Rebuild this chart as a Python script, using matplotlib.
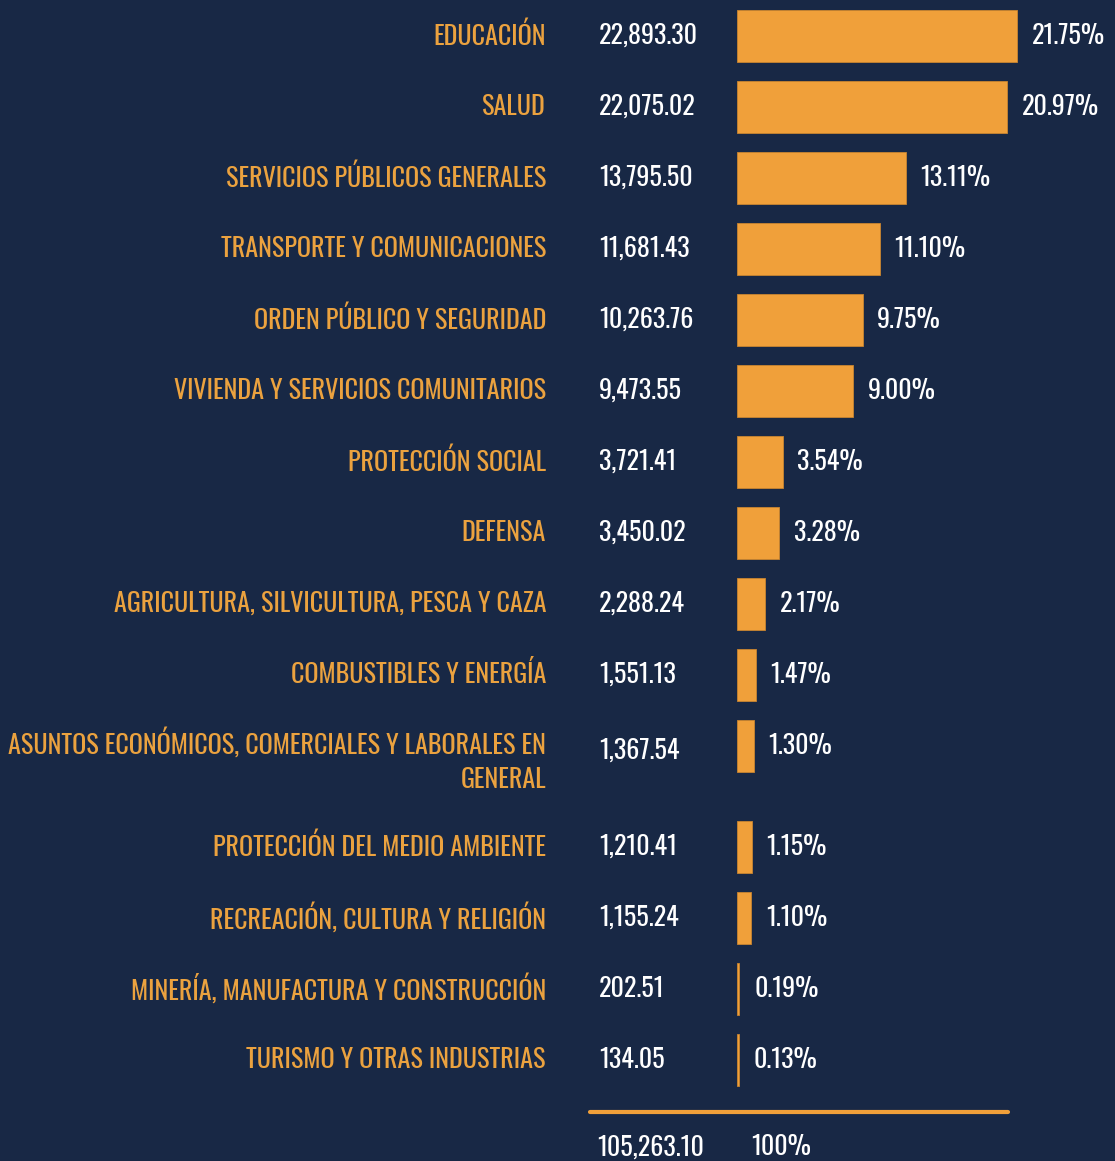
import numpy as np
import matplotlib
matplotlib.use('Agg')
import matplotlib.pyplot as plt
import matplotlib.transforms as mtransforms
from matplotlib import font_manager

categorias = ['EDUCACIÓN', 'SALUD', 'SERVICIOS PÚBLICOS GENERALES',
              'TRANSPORTE Y COMUNICACIONES', 'ORDEN PÚBLICO Y SEGURIDAD',
              'VIVIENDA Y SERVICIOS COMUNITARIOS', 'PROTECCIÓN SOCIAL', 'DEFENSA',
              'AGRICULTURA, SILVICULTURA, PESCA Y CAZA', 'COMBUSTIBLES Y ENERGÍA',
              'ASUNTOS ECONÓMICOS, COMERCIALES Y LABORALES EN\nGENERAL',
              'PROTECCIÓN DEL MEDIO AMBIENTE', 'RECREACIÓN, CULTURA Y RELIGIÓN',
              'MINERÍA, MANUFACTURA Y CONSTRUCCIÓN', 'TURISMO Y OTRAS INDUSTRIAS']
montos = [22893.30, 22075.02, 13795.50, 11681.43, 10263.76, 9473.55, 3721.41,
          3450.02, 2288.24, 1551.13, 1367.54, 1210.41, 1155.24, 202.51, 134.05]
porcentajes = [21.75, 20.97, 13.11, 11.10, 9.75, 9.00, 3.54, 3.28, 2.17, 1.47,
               1.30, 1.15, 1.10, 0.19, 0.13]
total = 105263.10

BG = '#182845'
NARANJA = '#f0a03a'

# fuente condensada: la primera que este instalada
instaladas = {f.name for f in font_manager.fontManager.ttflist}
fuente = next(n for n in ['Oswald', 'Roboto Condensed', 'Fjalla One', 'DejaVu Sans']
              if n in instaladas)
plt.rcParams['font.family'] = [fuente, 'DejaVu Sans']
FS = 18.8

W, H = 1115, 1161
fig = plt.figure(figsize=(W / 100, H / 100), dpi=100, facecolor=BG)
x0 = 737
ax = fig.add_axes([x0 / W, 0, 1 - x0 / W, 1])
ax.set_facecolor(BG)
ax.axis('off')

# filas: la de "asuntos" ocupa dos lineas, el resto se desplaza un poco
y = np.arange(len(categorias), dtype=float)
y[11:] += 0.42
px_pct = 280 / 21.75
ax.set_xlim(0, (W - x0) / px_pct)
ax.set_ylim((H - 36) / 71, -36 / 71)

ax.barh(y, porcentajes, height=0.73, color=NARANJA, edgecolor='#c98530', linewidth=0.6)

trans = mtransforms.blended_transform_factory(fig.transFigure, ax.transData)
for yi, cat, m, p in zip(y, categorias, montos, porcentajes):
    dos_lineas = '\n' in cat
    ax.text(546 / W, yi + (0.2 if dos_lineas else 0.0), cat, transform=trans,
            ha='right', va='center', color='#eba23f', fontsize=FS,
            fontweight='light', linespacing=1.4, clip_on=False)
    ax.text(599 / W, yi + (0.06 if dos_lineas else 0.0), f'{m:,.2f}', transform=trans,
            ha='left', va='center', color='white', fontsize=FS, fontweight='light',
            clip_on=False)
    ax.annotate(f'{p:.2f}%', (p, yi), xytext=(10.5, 0), textcoords='offset points',
                ha='left', va='center', color='white', fontsize=FS, fontweight='light')

# linea del total
yt = 15.15
ax.plot([590 / W, 1008 / W], [yt, yt], transform=trans, color=NARANJA, lw=3,
        solid_capstyle='round', clip_on=False)
ax.text(597 / W, 15.65, f'{total:,.2f}', transform=trans, ha='left', va='center',
        color='white', fontsize=FS, fontweight='light', clip_on=False)
ax.text(751 / W, 15.65, '100%', transform=trans, ha='left', va='center',
        color='white', fontsize=FS, fontweight='light', clip_on=False)

fig.savefig('out.png', dpi=100, facecolor=BG)
